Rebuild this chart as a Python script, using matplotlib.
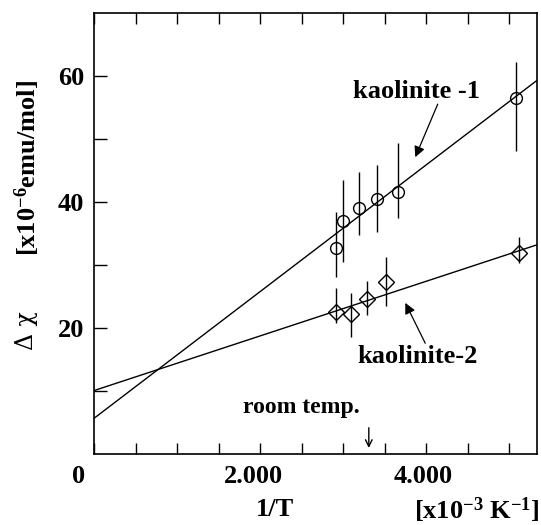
import numpy as np
import matplotlib
matplotlib.use("Agg")
import matplotlib.pyplot as plt
import matplotlib.transforms as mtransforms

plt.rcParams['font.family'] = ['Liberation Serif', 'DejaVu Serif']
plt.rcParams['font.weight'] = 'bold'
plt.rcParams['mathtext.fontset'] = 'custom'
plt.rcParams['mathtext.rm'] = 'Liberation Serif:bold'
plt.rcParams['mathtext.bf'] = 'Liberation Serif:bold'
plt.rcParams['mathtext.it'] = 'Liberation Serif:bold:italic'

# kaolinite-1 (circles)
x1 = [2.92, 3.00, 3.19, 3.41, 3.66, 5.08]
y1 = [32.7, 37.0, 39.1, 40.4, 41.5, 56.5]
y1_lo = [28.1, 30.5, 34.8, 35.3, 37.4, 48.0]
y1_hi = [38.4, 43.5, 44.8, 45.8, 49.3, 62.2]

# kaolinite-2 (diamonds)
x2 = [2.92, 3.10, 3.29, 3.52, 5.12]
y2 = [22.6, 22.2, 24.6, 27.3, 31.9]
y2_lo = [20.8, 18.6, 22.1, 23.5, 30.3]
y2_hi = [26.3, 25.6, 27.4, 31.3, 34.5]

# fitted lines (intercept, slope)
fit1 = (5.7, 10.04)
fit2 = (10.1, 4.33)

room_temp = 3.31
xticks = [0, 0.5, 1.0, 1.5, 2.0, 2.5, 3.0, 3.5, 4.0, 4.5, 5.0]
xtick_labels = ['0', '', '', '', '2.000', '', '', '', '4.000', '', '']
yticks = [10, 20, 30, 40, 50, 60]
ytick_labels = ['', '20', '', '40', '', '60']

fig = plt.figure(figsize=(5.41, 5.25), dpi=100)
ax = fig.add_axes([0.1738, 0.1347, 0.8194, 0.8411])
ax.set_xlim(0, 5.34)
ax.set_ylim(0, 70)

# fit lines
xf = np.array([0, 5.34])
ax.plot(xf, fit1[0] + fit1[1] * xf, color='black', lw=1.0)
ax.plot(xf, fit2[0] + fit2[1] * xf, color='black', lw=1.0)

# error bars
ax.vlines(x1, y1_lo, y1_hi, color='black', lw=1.0)
ax.vlines(x2, y2_lo, y2_hi, color='black', lw=1.0)

# markers
ax.plot(x1, y1, 'o', ms=8.5, mfc='none', mec='black', mew=1.0)
ax.plot(x2, y2, 'D', ms=8, mfc='none', mec='black', mew=1.0)

# annotations
ax.text(3.89, 56.4, 'kaolinite -1', ha='center', va='baseline', fontsize=19)
ax.annotate('', xy=(3.87, 47.1), xytext=(4.14, 55.5),
            arrowprops=dict(arrowstyle='-|>', color='black', lw=0.9,
                            mutation_scale=16, shrinkA=0, shrinkB=0))
ax.text(3.90, 14.4, 'kaolinite-2', ha='center', va='baseline', fontsize=19)
ax.annotate('', xy=(3.75, 24.0), xytext=(3.99, 17.6),
            arrowprops=dict(arrowstyle='-|>', color='black', lw=0.9,
                            mutation_scale=16, shrinkA=0, shrinkB=0))
ax.text(3.20, 6.5, 'room temp.', ha='right', va='baseline', fontsize=17)
ax.annotate('', xy=(room_temp, 1.0), xytext=(room_temp, 4.2),
            arrowprops=dict(arrowstyle='->', color='black', lw=1.0,
                            mutation_scale=12, shrinkA=0, shrinkB=0))

# ticks
ax.set_xticks(xticks)
ax.set_xticklabels(xtick_labels, fontsize=19)
ax.set_yticks(yticks)
ax.set_yticklabels(ytick_labels, fontsize=19)
ax.tick_params(axis='x', direction='in', length=8, width=1.0, top=True, pad=8)
ax.tick_params(axis='y', direction='in', length=9, width=1.0, pad=7)
for sp in ax.spines.values():
    sp.set_linewidth(1.2)

# labels in the original sit a little left of their ticks
for lbl, dx in zip(ax.get_xticklabels(), [-0.15, 0, 0, 0, -0.07, 0, 0, 0, -0.03, 0, 0]):
    if dx:
        lbl.set_transform(lbl.get_transform() +
                          mtransforms.ScaledTranslation(dx, 0, fig.dpi_scale_trans))

# axis labels
fig.text(275 / 541, 1 - 510 / 525, '1/T', ha='center', va='center', fontsize=19)
fig.text(0.998, 1 - 510 / 525, r'[x10$^{\mathbf{-3}}$ K$^{\mathbf{-1}}$]',
         ha='right', va='center', fontsize=19)
fig.text(27 / 541, 1 - 168 / 525, r'[x10$^{\mathbf{-6}}$emu/mol]',
         ha='center', va='center', rotation=90, fontsize=19)
fig.text(27 / 541, 1 - 331 / 525, 'Δ χ', ha='center', va='center',
         rotation=90, fontsize=17, family='DejaVu Serif', weight='normal')

fig.savefig('out.png', dpi=100)
